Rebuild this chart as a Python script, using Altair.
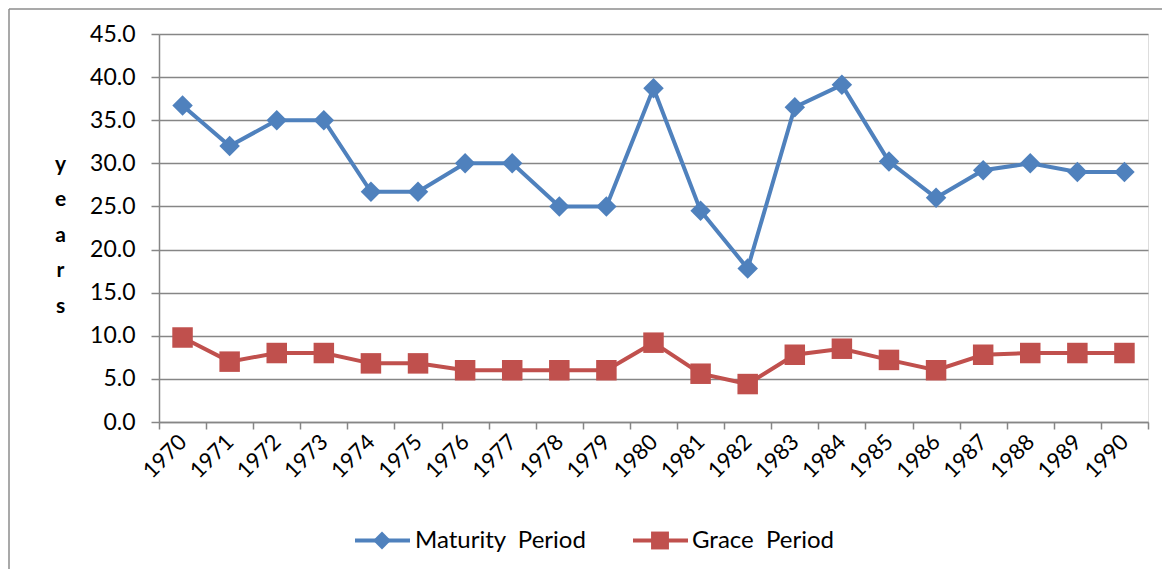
import altair as alt
import pandas as pd

years = [str(y) for y in range(1970, 1991)]
maturity = [36.7, 32.0, 35.0, 35.0, 26.7, 26.7, 30.0, 30.0, 25.0, 25.0, 38.7,
            24.5, 17.8, 36.5, 39.1, 30.2, 26.0, 29.2, 30.0, 29.0, 29.0]
grace = [9.8, 7.0, 8.0, 8.0, 6.8, 6.8, 6.0, 6.0, 6.0, 6.0, 9.2,
         5.6, 4.4, 7.8, 8.5, 7.2, 6.0, 7.8, 8.0, 8.0, 8.0]
series_names = ["Maturity\u00a0 Period", "Grace\u00a0 Period"]
series_colors = ["#4F81BD", "#C0504D"]
series_shapes = ["diamond", "square"]
y_ticks = [0, 5, 10, 15, 20, 25, 30, 35, 40, 45]

FONT = "Lato"
GRID = "#868686"

rows = []
for i, y in enumerate(years):
    rows.append({"year": y, "series": series_names[0], "value": maturity[i]})
    rows.append({"year": y, "series": series_names[1], "value": grace[i]})
df = pd.DataFrame(rows)

x_enc = alt.X(
    "year:O",
    sort=years,
    bandPosition=0.5,
    scale=alt.Scale(paddingInner=0, paddingOuter=0),
    axis=alt.Axis(
        title=None, labelAngle=-45, labelAlign="right", labelBaseline="middle",
        labelPadding=9, tickBand="extent", tickSize=7, tickColor=GRID,
        domainColor=GRID, domainWidth=1.5, tickWidth=1.5,
        labelFont=FONT, labelFontSize=22, labelColor="black", grid=False,
    ),
)
y_enc = alt.Y(
    "value:Q",
    scale=alt.Scale(domain=[0, 45], nice=False, zero=True),
    axis=alt.Axis(
        values=y_ticks, format=".1f", title=["y", "e", "a", "r", "s"],
        titleAngle=0, titleX=-99, titleY=136, titleAlign="center",
        titleBaseline="alphabetic", titleLineHeight=35.5, titleFontSize=21,
        titleFontWeight="bold", titleFont=FONT, titleColor="black",
        labelFont=FONT, labelFontSize=23, labelColor="black", labelPadding=16,
        tickSize=8, tickColor=GRID, tickWidth=1.5, domainColor=GRID, domainWidth=1.5,
        grid=True, gridColor=GRID, gridWidth=1.5,
    ),
)
color_enc = alt.Color("series:N", scale=alt.Scale(domain=series_names, range=series_colors), legend=None)
shape_enc = alt.Shape("series:N", scale=alt.Scale(domain=series_names, range=series_shapes), legend=None)

lines = alt.Chart(df).mark_line(strokeWidth=4).encode(x=x_enc, y=y_enc, color=color_enc, detail="series:N")
points = alt.Chart(df).mark_point(filled=True, size=420, opacity=1).encode(
    x=x_enc, y=y_enc, color=color_enc, shape=shape_enc
)

one = pd.DataFrame({"k": [0]})
legend_layers = []
legend_pos = [(196, 251, 223, 256), (474, 529, 501, 533)]
for (x1, x2, xm, xt), name, col, shp in zip(legend_pos, series_names, series_colors, series_shapes):
    legend_layers.append(alt.Chart(one).mark_rule(strokeWidth=4, color=col).encode(
        x=alt.value(x1), x2=alt.value(x2), y=alt.value(506.5)))
    legend_layers.append(alt.Chart(one).mark_point(filled=True, size=320, opacity=1, color=col, shape=shp).encode(
        x=alt.value(xm), y=alt.value(506.5)))
    legend_layers.append(alt.Chart(one).mark_text(align="left", baseline="middle", font=FONT, fontSize=24, color="black").encode(
        x=alt.value(xt), y=alt.value(507), text=alt.value(name)))

border_left = alt.Chart(one).mark_rule(color="#8c8c8c", strokeWidth=1.5).encode(
    x=alt.value(-150), y=alt.value(-25), y2=alt.value(540))
border_top = alt.Chart(one).mark_rule(color="#8c8c8c", strokeWidth=1.5).encode(
    x=alt.value(-150), x2=alt.value(1010), y=alt.value(-25))

chart = alt.layer(border_left, border_top, lines, points, *legend_layers).properties(
    width=989, height=388, autosize="none",
    padding={"left": 151, "top": 26, "right": 14, "bottom": 147},
).configure_view(stroke=None).configure(background="white")

chart.save("out.html", embed_options={"renderer": "svg", "actions": False})
